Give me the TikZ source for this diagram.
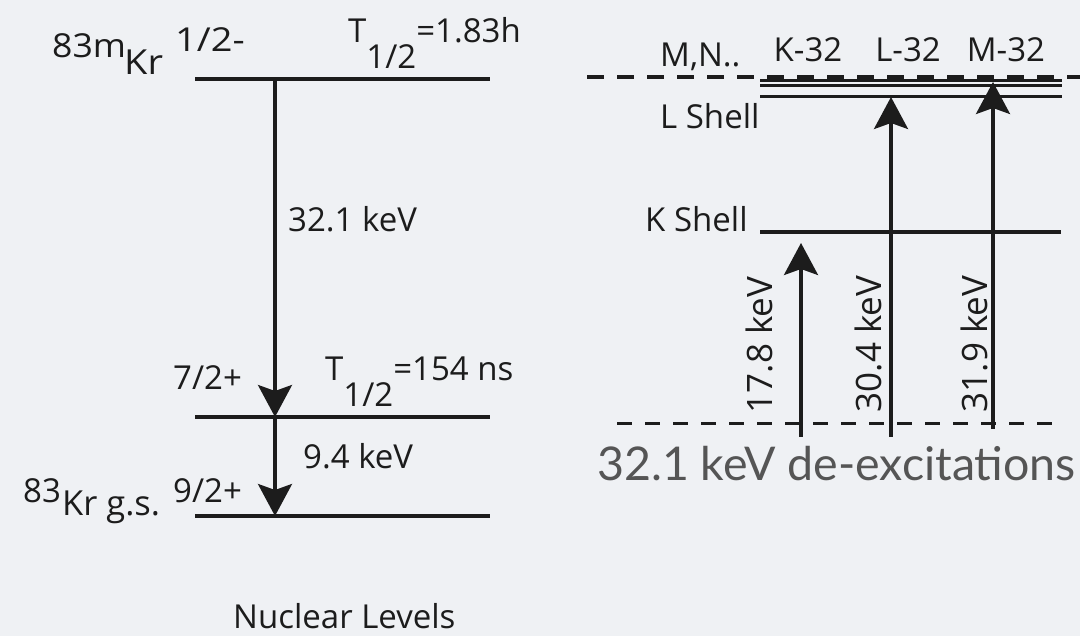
\documentclass[tikz,border=0pt]{standalone}
\usepackage{fontspec}
\setmainfont{Open Sans}
\newfontfamily\gillfont{Lato}
\usetikzlibrary{arrows.meta, positioning}
\definecolor{paper}{RGB}{239,241,244}
\definecolor{ink}{RGB}{28,28,28}
\definecolor{greyink}{RGB}{85,85,85}
\tikzset{
  txt/.style={inner sep=0pt,anchor=base west,text=ink,font=\fontsize{33}{38}\selectfont},
  bigtxt/.style={txt,font=\fontsize{34.5}{40}\selectfont},
  vtxt/.style={inner sep=0pt,rotate=90,text=ink,font=\fontsize{35}{40}\selectfont},
  lvl/.style={draw=ink,line width=4.5pt},
  shell/.style={draw=ink,line width=3.2pt},
  gap/.style={draw=ink,line width=3pt,dash pattern=on 17pt off 13pt},
  line/.style={draw=ink,line width=3.3pt,-{Stealth[length=32pt,width=34pt,inset=6pt]}}
}

\begin{document}
\begin{tikzpicture}[x=1pt,y=-1pt]
\fill[paper] (0,0) rectangle (1080,636);
\useasboundingbox (0,0) rectangle (1080,636);
\coordinate (m0) at (195,79);  \coordinate (m1) at (490,79);
\coordinate (i0) at (195,417); \coordinate (i1) at (490,417);
\coordinate (g0) at (195,516); \coordinate (g1) at (490,516);
\coordinate (ma) at (275,79);  \coordinate (ia) at (275,417); \coordinate (ga) at (275,516);
\draw[lvl] (m0) -- (m1);
\draw[lvl] (i0) -- (i1);
\draw[lvl] (g0) -- (g1);
\draw[line] (ma) -- (ia);
\draw[line] (ia) -- (ga);
\node[txt] (kr83m) at (52,58) {\scalebox{1.08}[1]{83m}};
\node[bigtxt] (krm) at (124,75) {\scalebox{1.1}[1]{Kr}};
\node[txt] (spinm) at (175,52) {\scalebox{1.15}[1]{1/2-}};
\node[txt] (halfm) at (348,43) {T\raisebox{-26pt}{1/2}=1.83h};
\node[txt] (e321) at (288,232) {32.1 keV};
\node[txt] (spini) at (173,390) {7/2+};
\node[txt] (halfi) at (325,381) {T\raisebox{-26pt}{1/2}=154 ns};
\node[txt] (e94) at (303,468) {9.4 keV};
\node[txt] (kr83) at (23,502) {83};
\node[bigtxt] (krg) at (62,515) {Kr g.s.};
\node[txt] (sping) at (173,502) {9/2+};
\node[txt] (nuc) at (233,628) {Nuclear Levels};
\coordinate (d0) at (587,77);  \coordinate (d1) at (1080,77);
\coordinate (n0) at (760,80.5); \coordinate (n1) at (1062,80.5);
\coordinate (o0) at (760,85.5); \coordinate (o1) at (1062,85.5);
\coordinate (l0) at (760,96.5); \coordinate (l1) at (1062,96.5);
\coordinate (k0) at (760,232); \coordinate (k1) at (1061,232);
\coordinate (b0) at (617,424); \coordinate (b1) at (1058,424);
\draw[gap,line width=3.5pt] (d0) -- (d1);
\draw[shell,line width=2.6pt] (n0) -- (n1);
\draw[shell,line width=2.6pt] (o0) -- (o1);
\draw[shell] (l0) -- (l1);
\draw[shell] (k0) -- (k1);
\draw[gap,dash pattern=on 15pt off 13pt] (b0) -- (b1);
\coordinate (ka) at (801,437); \coordinate (kb) at (801,243);
\coordinate (la) at (891,437); \coordinate (lb) at (891,97);
\coordinate (mma) at (993,429); \coordinate (mmb) at (993,82);
\draw[line] (ka) -- (kb);
\draw[line] (la) -- (lb);
\draw[line] (mma) -- (mmb);
\node[txt,anchor=base] (k32) at (808,62) {K-32};
\node[txt,anchor=base] (l32) at (908,62) {L-32};
\node[txt,anchor=base] (m32) at (1006,62) {M-32};
\node[txt] (mn) at (660,67) {M,N..};
\node[txt] (lsh) at (660,129) {L Shell};
\node[txt] (ksh) at (645,232) {K Shell};
\node[vtxt] (v178) at (759,345) {17.8 keV};
\node[vtxt] (v304) at (868,344) {30.4 keV};
\node[vtxt] (v319) at (974,344) {31.9 keV};
\node[inner sep=0pt,anchor=base west,text=greyink,font=\gillfont\fontsize{46.5}{50}\selectfont] (dex) at (597,480) {32.1 keV de-excitations};
\end{tikzpicture}
\end{document}
